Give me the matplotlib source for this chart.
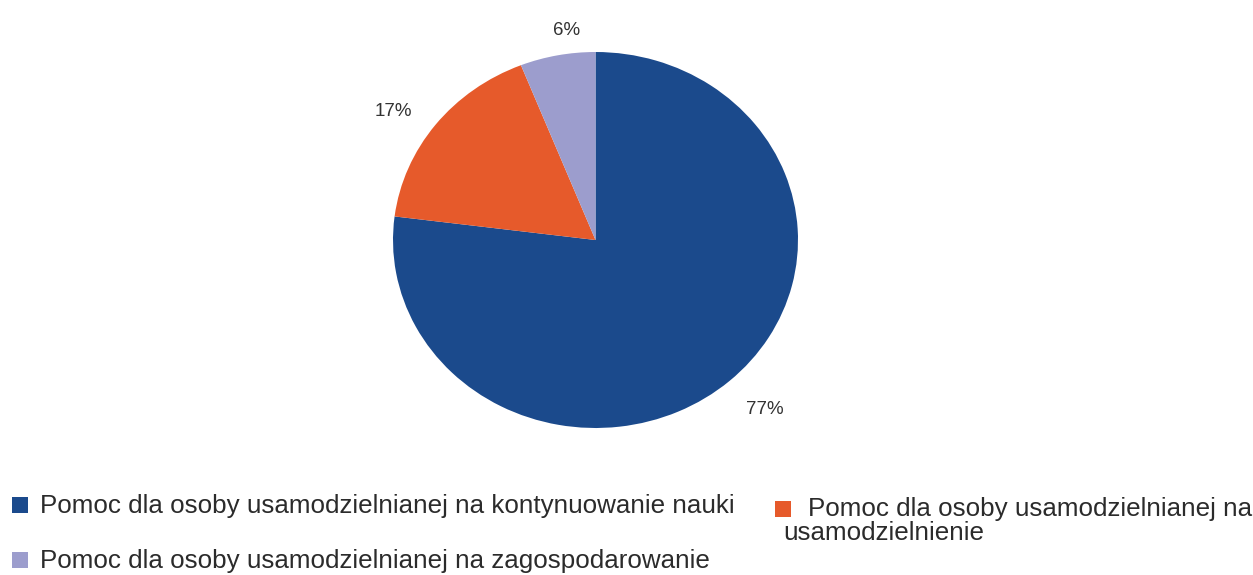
import matplotlib
matplotlib.use("Agg")
import matplotlib.pyplot as plt
from matplotlib.patches import Rectangle

categories = [
    "Pomoc dla osoby usamodzielnianej na kontynuowanie nauki",
    "Pomoc dla osoby usamodzielnianej na usamodzielnienie",
    "Pomoc dla osoby usamodzielnianej na zagospodarowanie",
]
values = [77, 17, 6]
pct_labels = ["77%", "17%", "6%"]
colors = ["#1b4a8c", "#e65a2b", "#9c9dcd"]

W, H = 1253, 575
fig = plt.figure(figsize=(W / 100, H / 100), dpi=100)
fig.patch.set_facecolor("white")

# pie axes (scan is slightly stretched horizontally -> elliptical pie)
left, right, top, bottom = 393, 798, 52, 428
ax = fig.add_axes([left / W, 1 - bottom / H, (right - left) / W, (bottom - top) / H])
wedges, _ = ax.pie(values, colors=colors, startangle=90, counterclock=False,
                   wedgeprops=dict(linewidth=0))
ax.set_aspect("auto")
ax.set_xlim(-1, 1)
ax.set_ylim(-1, 1)
ax.axis("off")

label_pos = [(0.837, -0.904), (-1.0, 0.681), (-0.141, 1.117)]
for (x, y), t in zip(label_pos, pct_labels):
    ax.text(x, y, t, ha="center", va="center", fontsize=13.5,
            color="#333333", family="Liberation Sans", clip_on=False)

# legend drawn manually
fs = 18.7
tc = "#2b2b2b"
def square(x0, y0, c, s=16):
    fig.patches.append(Rectangle((x0 / W, 1 - (y0 + s) / H), s / W, s / H,
                                 transform=fig.transFigure, color=c, lw=0))

def txt(x, ybase, s):
    fig.text(x / W, 1 - ybase / H, s, fontsize=fs, color=tc,
             family="Liberation Sans", va="baseline", ha="left")

square(12, 497, colors[0])
txt(40, 513, categories[0])
square(12, 552, colors[2])
txt(40, 568, categories[2])
square(775, 501, colors[1])
first, second = categories[1].rsplit(" ", 1)
txt(808, 516, first)
txt(783, 540, second)

fig.savefig("out.png", dpi=100, facecolor="white")
